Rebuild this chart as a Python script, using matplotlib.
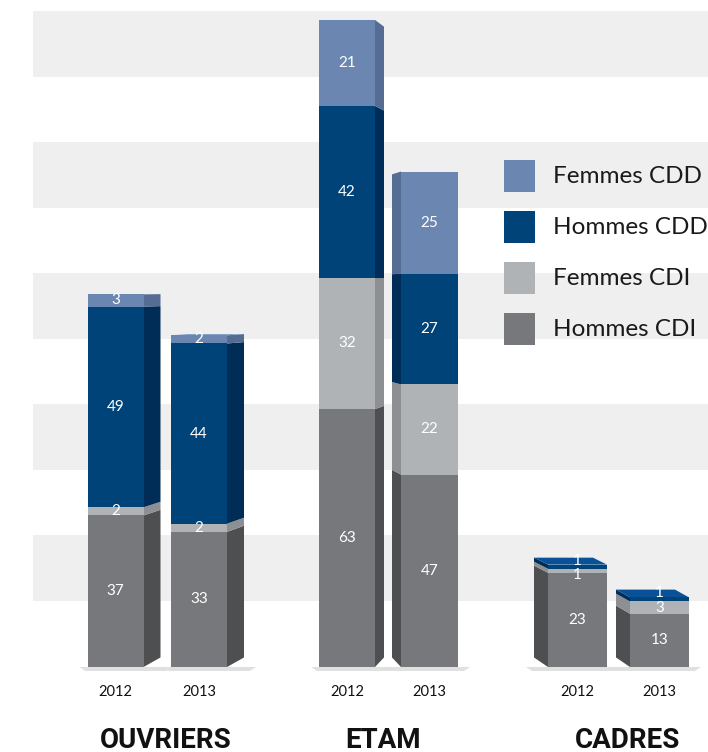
import matplotlib
matplotlib.use("Agg")
import matplotlib.pyplot as plt
from matplotlib.patches import Polygon, Rectangle

# ---------------- data ----------------
groups = ["OUVRIERS", "ETAM", "CADRES"]
years = ["2012", "2013"]
series = ["Hommes CDI", "Femmes CDI", "Hommes CDD", "Femmes CDD"]
hommes_cdi = [37, 33, 63, 47, 23, 13]
femmes_cdi = [2, 2, 32, 22, 1, 3]
hommes_cdd = [49, 44, 42, 27, 1, 1]
femmes_cdd = [3, 2, 21, 25, 0, 0]
values = [hommes_cdi, femmes_cdi, hommes_cdd, femmes_cdd]

# ---------------- style / layout ----------------
front_colors = ["#77787b", "#b0b3b6", "#004379", "#6b87b1"]
side_colors = ["#4e4f51", "#8d8f92", "#002c58", "#556d92"]
top_colors = ["#8a8b8e", "#c4c6c8", "#0a5298", "#7f9bc4"]
W, H = 708, 752
base_px = 667          # pixel row of value 0
scale = 4.095          # pixels per unit
x_centers = [115.5, 199, 347, 429.5, 577.5, 659.5]
widths = [56, 56, 56, 57, 59, 59]
side_dir = [1, 1, 1, -1, -1, -1]
side_depth = [17, 17, 9, 9, 14, 14]
group_label_x = [166, 383, 628]
horizon = 93
persp = 0.025

ymin = -(H - base_px) / scale
ymax = base_px / scale


def py(p):  # pixel row -> data value
    return (base_px - p) / scale


fig = plt.figure(figsize=(W / 100, H / 100), dpi=100)
ax = fig.add_axes([0, 0, 1, 1])
ax.set_xlim(0, W)
ax.set_ylim(ymin, ymax)
ax.axis("off")

# background bands
for lo in range(16, 161, 32):
    ax.axhspan(lo, lo + 16.3, xmin=33 / W, xmax=1, color="#efefef", zorder=0, lw=0)


def shift(v):
    return (horizon - v) * persp


# bars
for i, xc in enumerate(x_centers):
    w = widths[i]
    d = side_dir[i]
    dep = side_depth[i]
    xl, xr = xc - w / 2, xc + w / 2
    xe = xr if d > 0 else xl
    xb = xe + d * dep
    # floor shadow
    sx0 = min(xl, xb) - 8
    sx1 = max(xr, xb) + 12
    ax.add_patch(Polygon([(sx0, 0), (sx1, 0), (sx1 - 6, py(base_px + 4)), (sx0 + 6, py(base_px + 4))],
                         closed=True, color="#e0e0e0", lw=0, zorder=1))
    bottom = 0
    top_idx = None
    nonzero = [s for s in range(len(values)) if values[s][i] > 0]
    for s in nonzero:
        v = values[s][i]
        b, t = bottom, bottom + v
        ax.bar(xc, v, width=w, bottom=b, color=front_colors[s], lw=0, zorder=3)
        ax.add_patch(Polygon([(xe, b), (xb, b + shift(b)), (xb, t + shift(t)), (xe, t)],
                             closed=True, color=side_colors[s], lw=0, zorder=2))
        ly = (b + t) / 2
        if v < 2:
            if s == nonzero[-1]:
                ly = t + max(shift(t), 0) / 2
            else:
                ly = ly - 1
        ax.text(xc, ly, str(v), ha="center", va="center", color="white",
                fontsize=11, family="Lato", zorder=5)
        bottom = t
        top_idx = s
    sh = shift(bottom)
    if sh > 0.3:
        ax.add_patch(Polygon([(xl, bottom), (xr, bottom), (xr + d * dep, bottom + sh),
                              (xl + d * dep, bottom + sh)],
                             closed=True, color=top_colors[top_idx], lw=0, zorder=2.5))
    ax.text(xc, py(692), years[i % 2], ha="center", va="center", color="#111111",
            fontsize=10.5, family="Lato")

# group labels
for g, name in enumerate(groups):
    ax.text(group_label_x[g], py(740), name, ha="center", va="center", color="#111111",
            fontsize=20, family="Roboto", fontweight="bold")

# legend (top entry first)
leg_rows = [176, 227, 278, 329]
for r, s in enumerate([3, 2, 1, 0]):
    yc = leg_rows[r]
    ax.add_patch(Rectangle((504, py(yc + 16)), 31, 32 / scale, color=front_colors[s], lw=0, zorder=4))
    ax.text(553, py(yc), series[s], ha="left", va="center", color="#1a1a1a",
            fontsize=17.5, family="Lato", zorder=4)

fig.savefig("out.png", dpi=100)
